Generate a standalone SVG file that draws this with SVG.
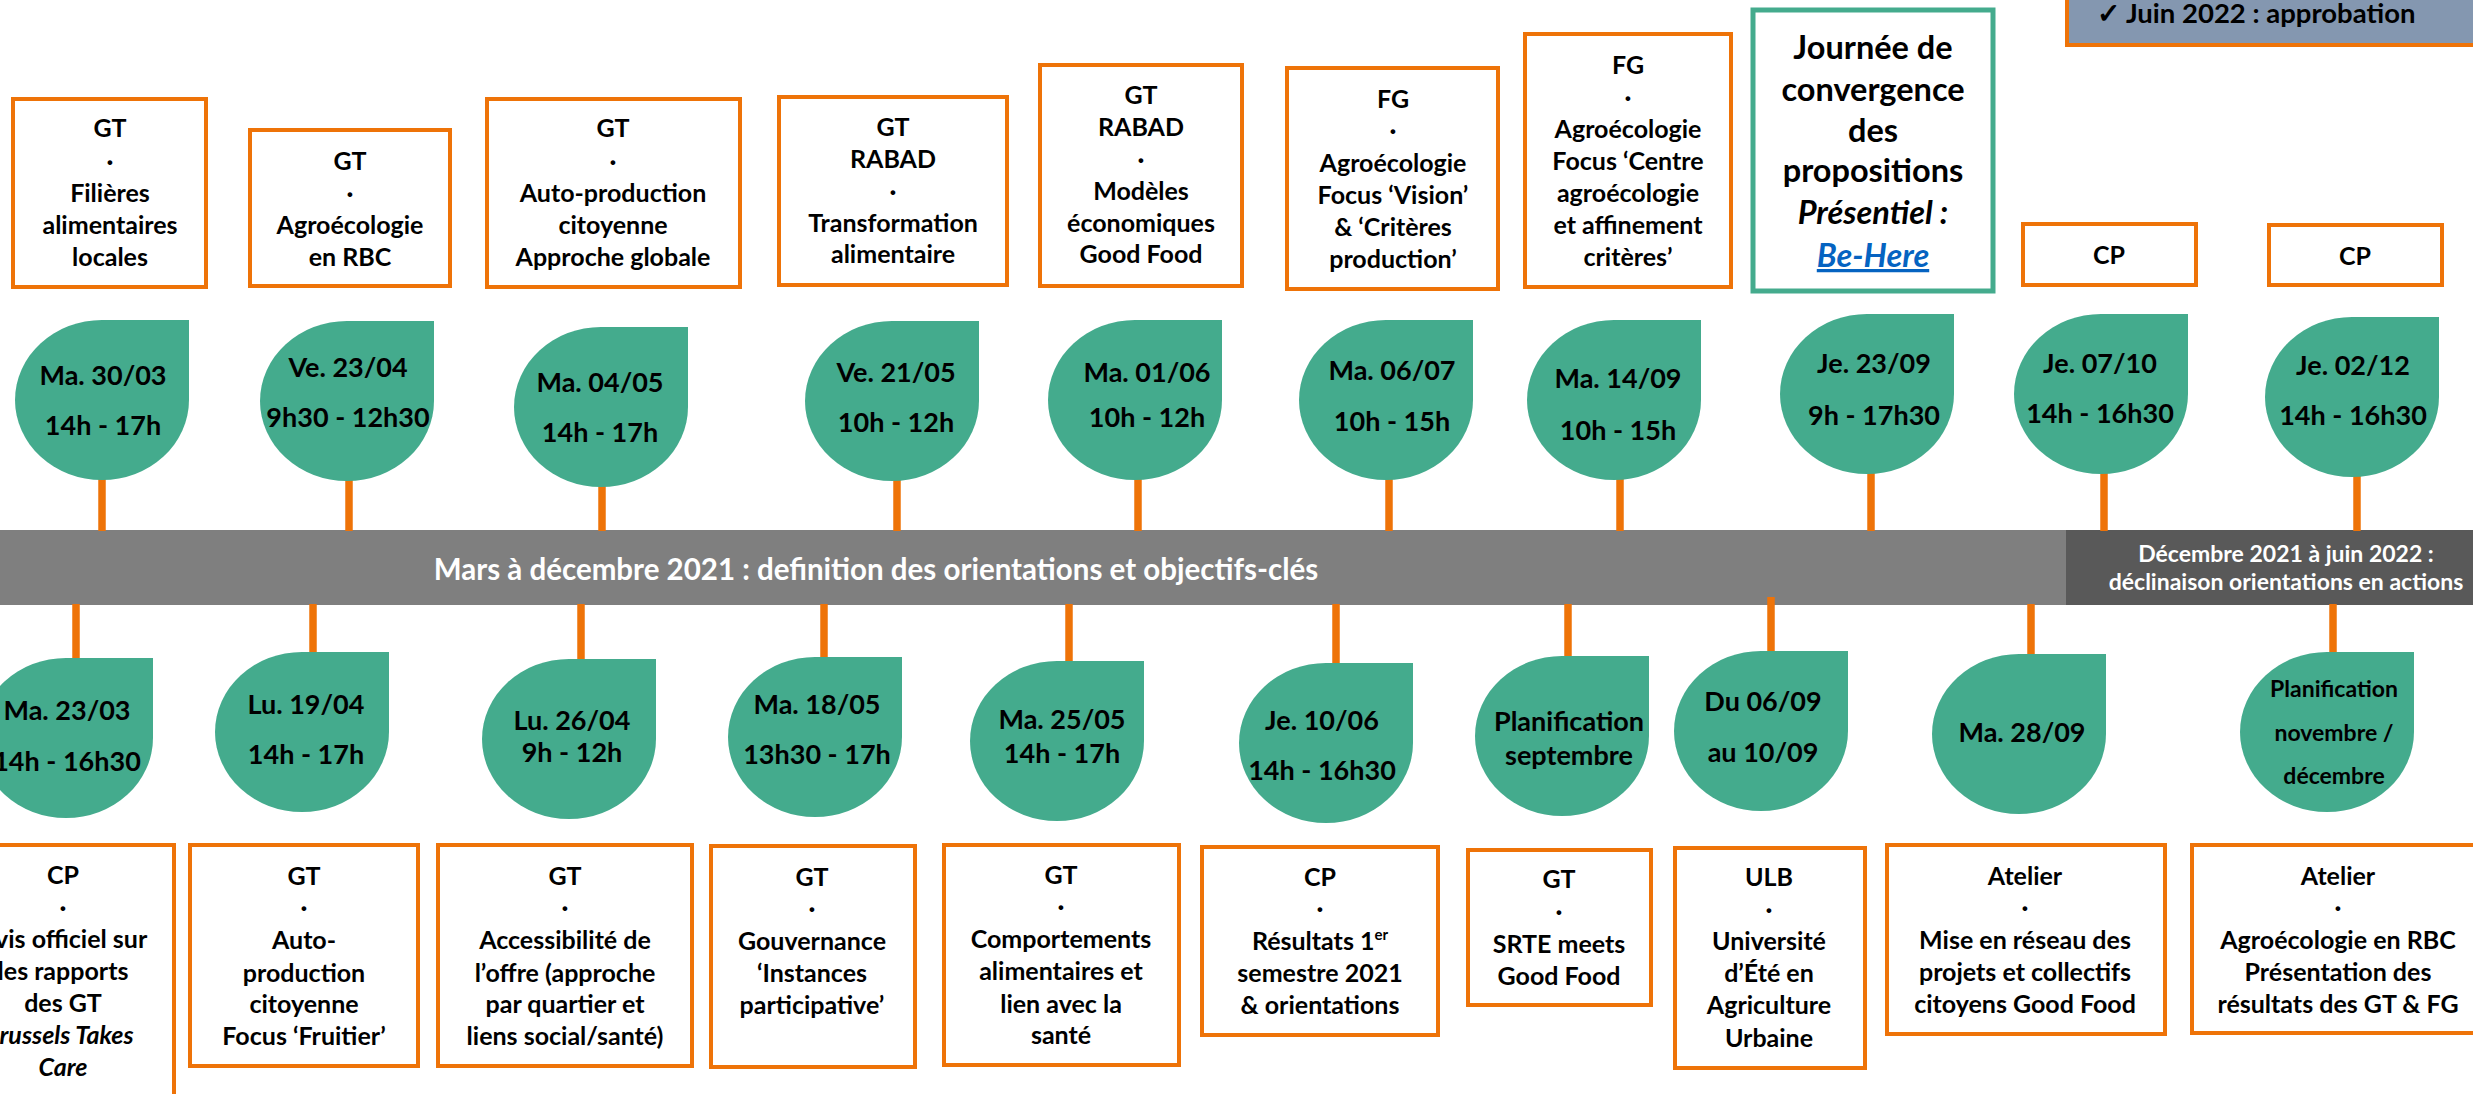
<svg xmlns="http://www.w3.org/2000/svg" xmlns:xlink="http://www.w3.org/1999/xlink" width="2473" height="1094" viewBox="0 0 2473 1094">
<style>
.box{fill:#fff;stroke:#EE7308;stroke-width:4}
.gbox{fill:#fff;stroke:#44AB8D;stroke-width:5}
.drop{fill:#44AB8D}
.stem{stroke:#EE7308;stroke-width:7.5;fill:none}
text{font-family:Lato,"Open Sans","Liberation Sans",sans-serif;font-weight:700;fill:#000;text-anchor:middle}
.b{font-size:25px}
.d{font-size:27px}
.j{font-size:32.5px}
.s{font-size:23px}
.w{fill:#fff}
.i{font-style:italic}
</style>
<defs>
<path id="drop" d="M0,-80 H87 V0 A87,80 0 0 1 0,80 A87,80 0 0 1 -87,0 A87,80 0 0 1 0,-80 Z"/>
</defs>
<rect width="2473" height="1094" fill="#fff"/>

<g id="timeline">
<rect x="0" y="530" width="2066" height="75" fill="#7F7F7F"/>
<rect x="2066" y="530" width="407" height="75" fill="#595959"/>
<text x="876" y="580" class="w" font-size="29.5">Mars à décembre 2021 : definition des orientations et objectifs-clés</text>
<text x="2286" y="562" class="w s">Décembre 2021 à juin 2022 :</text>
<text x="2286" y="590" class="w s">déclinaison orientations en actions</text>
</g>

<g id="connectors">
<line class="stem" x1="102" y1="478" x2="102" y2="531"/>
<line class="stem" x1="349" y1="480" x2="349" y2="531"/>
<line class="stem" x1="602" y1="486" x2="602" y2="531"/>
<line class="stem" x1="897" y1="480" x2="897" y2="531"/>
<line class="stem" x1="1138" y1="479" x2="1138" y2="531"/>
<line class="stem" x1="1389" y1="479" x2="1389" y2="531"/>
<line class="stem" x1="1620" y1="479" x2="1620" y2="531"/>
<line class="stem" x1="1871" y1="473" x2="1871" y2="531"/>
<line class="stem" x1="2104" y1="473" x2="2104" y2="531"/>
<line class="stem" x1="2357" y1="476" x2="2357" y2="531"/>
<line class="stem" x1="76" y1="604" x2="76" y2="659"/>
<line class="stem" x1="313" y1="604" x2="313" y2="653"/>
<line class="stem" x1="581" y1="604" x2="581" y2="660"/>
<line class="stem" x1="824" y1="604" x2="824" y2="658"/>
<line class="stem" x1="1069" y1="604" x2="1069" y2="662"/>
<line class="stem" x1="1336" y1="604" x2="1336" y2="664"/>
<line class="stem" x1="1568" y1="604" x2="1568" y2="657"/>
<line class="stem" x1="1771" y1="597" x2="1771" y2="652"/>
<line class="stem" x1="2031" y1="604" x2="2031" y2="655"/>
<line class="stem" x1="2333" y1="604" x2="2333" y2="653"/>
</g>

<g id="approbation">
<rect x="2067" y="-10" width="420" height="55" fill="#8497B0" stroke="#EE7308" stroke-width="4"/>
<text x="2097" y="23" font-size="27.5" style="text-anchor:start">✓ Juin 2022 : approbation</text>
</g>

<!-- top boxes -->
<g id="box-t1"><rect class="box" x="13" y="99" width="193" height="188"/>
<text class="b" x="110" y="137">GT</text><text class="b" x="110" y="170">·</text><text class="b" x="110" y="202">Filières</text><text class="b" x="110" y="234">alimentaires</text><text class="b" x="110" y="266">locales</text></g>
<g id="box-t2"><rect class="box" x="250" y="130" width="200" height="156"/>
<text class="b" x="350" y="170">GT</text><text class="b" x="350" y="202">·</text><text class="b" x="350" y="234">Agroécologie</text><text class="b" x="350" y="266">en RBC</text></g>
<g id="box-t3"><rect class="box" x="487" y="99" width="253" height="188"/>
<text class="b" x="613" y="137">GT</text><text class="b" x="613" y="170">·</text><text class="b" x="613" y="202">Auto-production</text><text class="b" x="613" y="234">citoyenne</text><text class="b" x="613" y="266">Approche globale</text></g>
<g id="box-t4"><rect class="box" x="779" y="97" width="228" height="188"/>
<text class="b" x="893" y="136">GT</text><text class="b" x="893" y="168">RABAD</text><text class="b" x="893" y="200">·</text><text class="b" x="893" y="232">Transformation</text><text class="b" x="893" y="263">alimentaire</text></g>
<g id="box-t5"><rect class="box" x="1040" y="65" width="202" height="221"/>
<text class="b" x="1141" y="104">GT</text><text class="b" x="1141" y="136">RABAD</text><text class="b" x="1141" y="168">·</text><text class="b" x="1141" y="200">Modèles</text><text class="b" x="1141" y="232">économiques</text><text class="b" x="1141" y="263">Good Food</text></g>
<g id="box-t6"><rect class="box" x="1287" y="68" width="211" height="221"/>
<text class="b" x="1393" y="108">FG</text><text class="b" x="1393" y="139">·</text><text class="b" x="1393" y="172">Agroécologie</text><text class="b" x="1393" y="204">Focus ‘Vision’</text><text class="b" x="1393" y="236">&amp; ‘Critères</text><text class="b" x="1393" y="268">production’</text></g>
<g id="box-t7"><rect class="box" x="1525" y="34" width="206" height="253"/>
<text class="b" x="1628" y="74">FG</text><text class="b" x="1628" y="106">·</text><text class="b" x="1628" y="138">Agroécologie</text><text class="b" x="1628" y="170">Focus ‘Centre</text><text class="b" x="1628" y="202">agroécologie</text><text class="b" x="1628" y="234">et affinement</text><text class="b" x="1628" y="266">critères’</text></g>
<g id="box-t8"><rect class="gbox" x="1753" y="10" width="240" height="281"/>
<text class="j" x="1873" y="59">Journée de</text><text class="j" x="1873" y="101">convergence</text><text class="j" x="1873" y="142">des</text><text class="j" x="1873" y="182">propositions</text><text class="j i" x="1873" y="224">Présentiel :</text><text class="j i" x="1873" y="267" style="fill:#0563C1;text-decoration:underline">Be-Here</text></g>
<g id="box-t9"><rect class="box" x="2023" y="224" width="173" height="61"/>
<text class="b" x="2109" y="264">CP</text></g>
<g id="box-t10"><rect class="box" x="2269" y="225" width="173" height="60"/>
<text class="b" x="2355" y="265">CP</text></g>

<!-- top drops -->
<g id="drop-t1"><use href="#drop" x="102" y="400" class="drop"/><text class="d" x="103" y="385">Ma. 30/03</text><text class="d" x="103" y="435">14h - 17h</text></g>
<g id="drop-t2"><use href="#drop" x="347" y="401" class="drop"/><text class="d" x="348" y="377">Ve. 23/04</text><text class="d" x="348" y="427">9h30 - 12h30</text></g>
<g id="drop-t3"><use href="#drop" x="601" y="407" class="drop"/><text class="d" x="600" y="392">Ma. 04/05</text><text class="d" x="600" y="442">14h - 17h</text></g>
<g id="drop-t4"><use href="#drop" x="892" y="401" class="drop"/><text class="d" x="896" y="382">Ve. 21/05</text><text class="d" x="896" y="432">10h - 12h</text></g>
<g id="drop-t5"><use href="#drop" x="1135" y="400" class="drop"/><text class="d" x="1147" y="382">Ma. 01/06</text><text class="d" x="1147" y="427">10h - 12h</text></g>
<g id="drop-t6"><use href="#drop" x="1386" y="400" class="drop"/><text class="d" x="1392" y="380">Ma. 06/07</text><text class="d" x="1392" y="431">10h - 15h</text></g>
<g id="drop-t7"><use href="#drop" x="1614" y="400" class="drop"/><text class="d" x="1618" y="388">Ma. 14/09</text><text class="d" x="1618" y="440">10h - 15h</text></g>
<g id="drop-t8"><use href="#drop" x="1867" y="394" class="drop"/><text class="d" x="1874" y="373">Je. 23/09</text><text class="d" x="1874" y="425">9h - 17h30</text></g>
<g id="drop-t9"><use href="#drop" x="2101" y="394" class="drop"/><text class="d" x="2100" y="373">Je. 07/10</text><text class="d" x="2100" y="423">14h - 16h30</text></g>
<g id="drop-t10"><use href="#drop" x="2352" y="397" class="drop"/><text class="d" x="2353" y="375">Je. 02/12</text><text class="d" x="2353" y="425">14h - 16h30</text></g>

<!-- bottom drops -->
<g id="drop-b1"><use href="#drop" x="66" y="738" class="drop"/><text class="d" x="67" y="720">Ma. 23/03</text><text class="d" x="67" y="771">14h - 16h30</text></g>
<g id="drop-b2"><use href="#drop" x="302" y="732" class="drop"/><text class="d" x="306" y="714">Lu. 19/04</text><text class="d" x="306" y="764">14h - 17h</text></g>
<g id="drop-b3"><use href="#drop" x="569" y="739" class="drop"/><text class="d" x="572" y="730">Lu. 26/04</text><text class="d" x="572" y="762">9h - 12h</text></g>
<g id="drop-b4"><use href="#drop" x="815" y="737" class="drop"/><text class="d" x="817" y="714">Ma. 18/05</text><text class="d" x="817" y="764">13h30 - 17h</text></g>
<g id="drop-b5"><use href="#drop" x="1057" y="741" class="drop"/><text class="d" x="1062" y="729">Ma. 25/05</text><text class="d" x="1062" y="763">14h - 17h</text></g>
<g id="drop-b6"><use href="#drop" x="1326" y="743" class="drop"/><text class="d" x="1322" y="730">Je. 10/06</text><text class="d" x="1322" y="780">14h - 16h30</text></g>
<g id="drop-b7"><use href="#drop" x="1562" y="736" class="drop"/><text class="d" x="1569" y="731">Planification</text><text class="d" x="1569" y="765">septembre</text></g>
<g id="drop-b8"><use href="#drop" x="1761" y="731" class="drop"/><text class="d" x="1763" y="711">Du 06/09</text><text class="d" x="1763" y="762">au 10/09</text></g>
<g id="drop-b9"><use href="#drop" x="2019" y="734" class="drop"/><text class="d" x="2022" y="742">Ma. 28/09</text></g>
<g id="drop-b10"><use href="#drop" x="2327" y="732" class="drop"/><text class="s" x="2334" y="697">Planification</text><text class="s" x="2334" y="741">novembre /</text><text class="s" x="2334" y="784">décembre</text></g>

<!-- bottom boxes -->
<g id="box-b1"><rect class="box" x="-48" y="845" width="222" height="300"/>
<text class="b" x="63" y="884">CP</text><text class="b" x="63" y="916">·</text><text class="b" x="63" y="948">Avis officiel sur</text><text class="b" x="63" y="980">les rapports</text><text class="b" x="63" y="1012">des GT</text><text class="b i" x="59" y="1044" font-size="26">Brussels Takes</text><text class="b i" x="63" y="1076" font-size="26">Care</text></g>
<g id="box-b2"><rect class="box" x="190" y="845" width="228" height="221"/>
<text class="b" x="304" y="885">GT</text><text class="b" x="304" y="916">·</text><text class="b" x="304" y="949">Auto-</text><text class="b" x="304" y="982">production</text><text class="b" x="304" y="1013">citoyenne</text><text class="b" x="304" y="1045">Focus ‘Fruitier’</text></g>
<g id="box-b3"><rect class="box" x="438" y="845" width="254" height="221"/>
<text class="b" x="565" y="885">GT</text><text class="b" x="565" y="916">·</text><text class="b" x="565" y="949">Accessibilité de</text><text class="b" x="565" y="982">l’offre (approche</text><text class="b" x="565" y="1013">par quartier et</text><text class="b" x="565" y="1045">liens social/santé)</text></g>
<g id="box-b4"><rect class="box" x="711" y="846" width="204" height="221"/>
<text class="b" x="812" y="886">GT</text><text class="b" x="812" y="917">·</text><text class="b" x="812" y="950">Gouvernance</text><text class="b" x="812" y="982">‘Instances</text><text class="b" x="812" y="1014">participative’</text></g>
<g id="box-b5"><rect class="box" x="944" y="845" width="235" height="220"/>
<text class="b" x="1061" y="884">GT</text><text class="b" x="1061" y="915">·</text><text class="b" x="1061" y="948">Comportements</text><text class="b" x="1061" y="980">alimentaires et</text><text class="b" x="1061" y="1013">lien avec la</text><text class="b" x="1061" y="1044">santé</text></g>
<g id="box-b6"><rect class="box" x="1202" y="847" width="236" height="188"/>
<text class="b" x="1320" y="886">CP</text><text class="b" x="1320" y="917">·</text><text class="b" x="1320" y="950">Résultats 1<tspan font-size="15" dy="-10">er</tspan></text><text class="b" x="1320" y="982">semestre 2021</text><text class="b" x="1320" y="1014">&amp; orientations</text></g>
<g id="box-b7"><rect class="box" x="1468" y="850" width="183" height="155"/>
<text class="b" x="1559" y="888">GT</text><text class="b" x="1559" y="920">·</text><text class="b" x="1559" y="953">SRTE meets</text><text class="b" x="1559" y="985">Good Food</text></g>
<g id="box-b8"><rect class="box" x="1675" y="848" width="190" height="220"/>
<text class="b" x="1769" y="886">ULB</text><text class="b" x="1769" y="918">·</text><text class="b" x="1769" y="950">Université</text><text class="b" x="1769" y="982">d’Été en</text><text class="b" x="1769" y="1014">Agriculture</text><text class="b" x="1769" y="1047">Urbaine</text></g>
<g id="box-b9"><rect class="box" x="1887" y="845" width="278" height="189"/>
<text class="b" x="2025" y="885">Atelier</text><text class="b" x="2025" y="916">·</text><text class="b" x="2025" y="949">Mise en réseau des</text><text class="b" x="2025" y="981">projets et collectifs</text><text class="b" x="2025" y="1013">citoyens Good Food</text></g>
<g id="box-b10"><rect class="box" x="2192" y="845" width="293" height="188"/>
<text class="b" x="2338" y="885">Atelier</text><text class="b" x="2338" y="916">·</text><text class="b" x="2338" y="949">Agroécologie en RBC</text><text class="b" x="2338" y="981">Présentation des</text><text class="b" x="2338" y="1013">résultats des GT &amp; FG</text></g>
</svg>
